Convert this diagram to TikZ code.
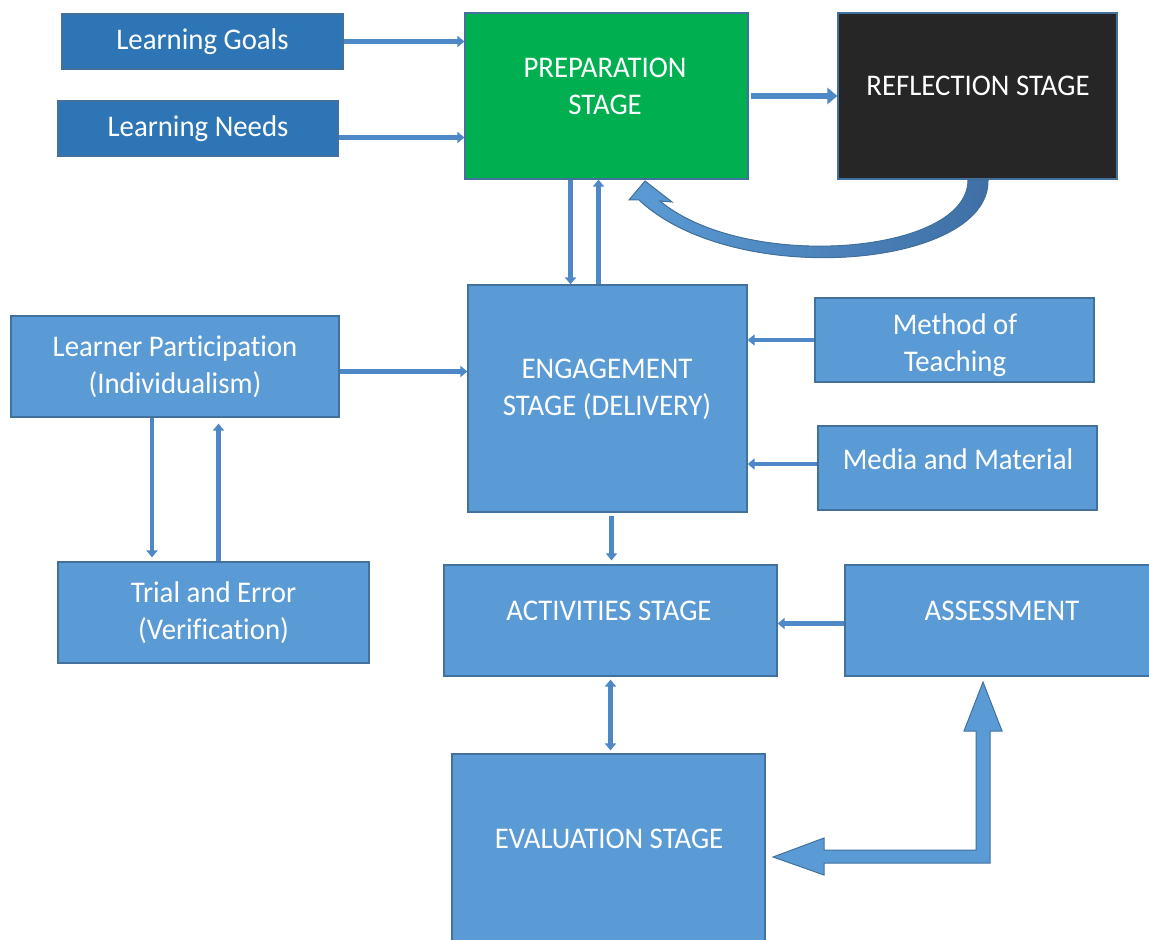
\documentclass[tikz,border=0pt]{standalone}
\usepackage{fontspec}
\setmainfont{Carlito}[FakeStretch=0.96, Ligatures=NoCommon]
\usetikzlibrary{arrows.meta, calc, positioning}
\definecolor{boxblue}{HTML}{5B9BD5}
\definecolor{boxedge}{HTML}{41719C}
\definecolor{goalblue}{HTML}{2E75B6}
\definecolor{prepgreen}{HTML}{00B050}
\definecolor{reflgray}{HTML}{262626}
\definecolor{linkblue}{HTML}{4F88C6}
\definecolor{bendblue}{HTML}{3F6FA5}
\tikzset{
  box/.style={draw=boxedge, line width=0.6pt, inner sep=0pt},
  stagebox/.style={box, fill=boxblue},
  lbl/.style={text=white, align=center, inner sep=0pt, font=\fontsize{15}{18.5}\selectfont},
  link/.style={draw=linkblue, line width=2.2pt, -{Triangle[width=5.5pt,length=3.5pt]}},
}

\begin{document}
\begin{tikzpicture}[x=0.5pt, y=-0.5pt]

        \useasboundingbox (0,0) rectangle (1149,940);
        \fill[white] (0,0) rectangle (1149,940);
        \clip (0,0) rectangle (1149,940);

        % Hộp đầu vào
        \node[box, fill=goalblue, minimum width=140.5pt, minimum height=27.5pt, lbl] (goals) at (202.5,41.5) {Learning Goals};
        \node[box, fill=goalblue, minimum width=140pt, minimum height=27.5pt, lbl] (needs) at (198,128.5) {Learning Needs};

        % Các giai đoạn trên
        \node[box, fill=prepgreen, minimum width=141.5pt, minimum height=83pt] (prep) at (606.5,96) {};
        \node[lbl] (prep-txt) at (605,86) {PREPARATION\\STAGE};
        \node[box, fill=reflgray, minimum width=139.5pt, minimum height=83pt] (refl) at (977.5,96) {};
        \node[lbl] (refl-txt) at (978,86) {REFLECTION STAGE};

        % Giai đoạn giảng dạy
        \node[stagebox, minimum width=139.5pt, minimum height=113.5pt] (engage) at (607.5,398.5) {};
        \node[lbl] (engage-txt) at (607,389) {ENGAGEMENT\\STAGE (DELIVERY)};
        \node[stagebox, minimum width=139.5pt, minimum height=42pt] (method) at (954.5,340) {};
        \node[lbl] (method-txt) at (955,345) {Method of\\Teaching};
        \node[stagebox, minimum width=139.5pt, minimum height=42pt] (media) at (957.5,468) {};
        \node[lbl] (media-txt) at (958,459) {Media and Material};

        % Người học
        \node[stagebox, minimum width=164pt, minimum height=50.5pt, lbl] (learner) at (175,366.5) {Learner Participation\\(Individualism)};
        \node[stagebox, minimum width=155.5pt, minimum height=50.5pt, lbl] (trial) at (213.5,612.5) {Trial and Error\\(Verification)};

        % Giai đoạn dưới
        \node[stagebox, minimum width=166.5pt, minimum height=55.5pt] (act) at (610.5,620.5) {};
        \node[lbl] (act-txt) at (609,611) {ACTIVITIES STAGE};
        \node[stagebox, minimum width=153.5pt, minimum height=55.5pt] (assess) at (998.5,620.5) {};
        \node[lbl] (assess-txt) at (1002,611) {ASSESSMENT};
        \node[stagebox, minimum width=156.5pt, minimum height=96pt] (eval) at (608.5,850) {};
        \node[lbl] (eval-txt) at (609,839) {EVALUATION STAGE};

        % Mũi tên nhỏ
        \draw[link] (goals.east) -- (goals.east -| prep.west);
        \draw[link] ([yshift=-4.5pt]needs.east) -- ([yshift=-4.5pt]needs.east -| prep.west);
        \draw[link, line width=3.4pt, -{Triangle[width=8pt,length=5pt]}] ([xshift=1pt]prep.east) -- (refl.west);
        \draw[link] ([xshift=-18pt]prep.south) -- ([xshift=-18pt]prep.south |- engage.north);
        \draw[link] ([xshift=-4.5pt]engage.north) -- ([xshift=-4.5pt]engage.north |- prep.south);
        \draw[link] ([yshift=-2.5pt]learner.east) -- ([yshift=-2.5pt]learner.east -| engage.west);
        \draw[link] (method.west) -- (method.west -| engage.east);
        \draw[link] ([yshift=2pt]media.west) -- ([yshift=2pt]media.west -| engage.east);
        \draw[link, shorten >=2pt] ([xshift=-11.5pt]learner.south) -- ([xshift=-11.5pt]learner.south |- trial.north);
        \draw[link, shorten >=3pt] ([xshift=2.5pt]trial.north) -- ([xshift=2.5pt]trial.north |- learner.south);
        \draw[link, shorten >=2pt, shorten <=1.5pt] ([xshift=2pt]engage.south) -- ([xshift=2pt]engage.south |- act.north);
        \draw[link] ([yshift=-1.5pt]assess.west) -- ([yshift=-1.5pt]assess.west -| act.east);
        \draw[link, {Triangle[width=5.5pt,length=3.5pt]}-{Triangle[width=5.5pt,length=3.5pt]}, shorten >=1.5pt, shorten <=1.5pt] (act.south) -- (act.south |- eval.north);

        % Mũi tên cong từ REFLECTION về PREPARATION
        \filldraw[left color=boxblue, right color=bendblue, draw=boxedge, line width=0.5pt]
          (988,180) .. controls (990,268) and (735,290) .. (639,200)
          -- (629,200) -- (645,181) -- (672,202) -- (660,201)
          .. controls (745,272) and (968,255) .. (968,180) -- cycle;

        % Mũi tên khối từ EVALUATION lên ASSESSMENT
        \filldraw[fill=boxblue, draw=boxedge, line width=0.5pt]
          (983,682) -- (1002,731) -- (990,731) -- (990,863) -- (824,863) -- (824,875)
          -- (773,857) -- (824,838) -- (824,850) -- (976,850) -- (976,731) -- (964,731) -- cycle;

\end{tikzpicture}
\end{document}
